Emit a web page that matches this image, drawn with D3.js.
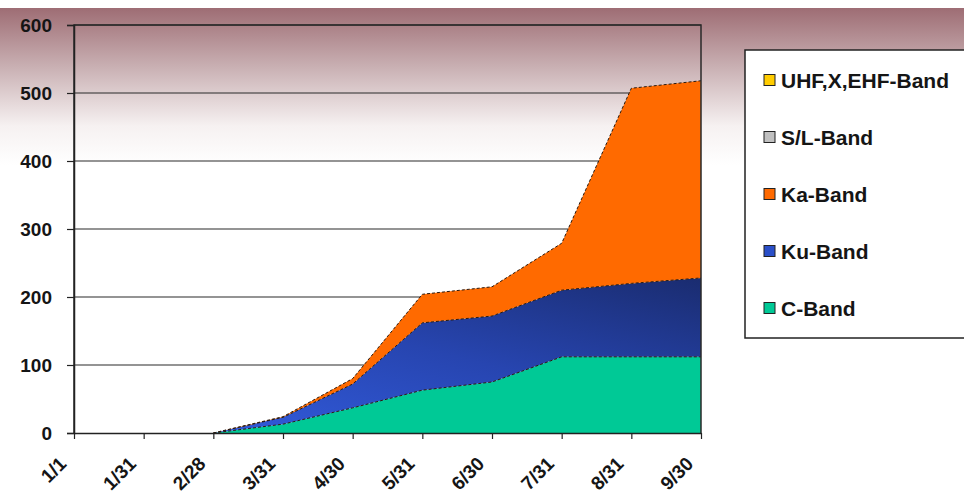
<!DOCTYPE html>
<html><head><meta charset="utf-8">
<script src="https://cdn.jsdelivr.net/npm/d3@7"></script>
<style>html,body{margin:0;padding:0;background:#fff;}svg{display:block;font-family:Arial,"Liberation Sans",sans-serif;}</style>
</head><body>
<svg id="c" width="964" height="499"></svg>
<script>
const categories = ["1/1","1/31","2/28","3/31","4/30","5/31","6/30","7/31","8/31","9/30"];
const seriesNames = ["C-Band","Ku-Band","Ka-Band","S/L-Band","UHF,X,EHF-Band"];
const cBand   = [0,0,0,13,37,63,75,112,112,112];
const kuBand  = [0,0,0,10,35,99,97,98,108,116];
const kaBand  = [0,0,0,1,8,42,43,69,287,290];
const slBand  = [0,0,0,0,0,0,0,0,0,0];
const uhfBand = [0,0,0,0,0,0,0,0,0,0];
const yTicks = [0,100,200,300,400,500,600];
const colors = ["#00c996","url(#kuGrad)","#ff6a00","#c0c0c0","#ffcc00"];
const legendColors = ["#00c996","#2a4fc8","#ff6a00","#c0c0c0","#ffcc00"];

const svg = d3.select("#c");
const defs = svg.append("defs");
const bg = defs.append("linearGradient").attr("id","bgGrad").attr("x1",0).attr("y1",0).attr("x2",0).attr("y2",1);
bg.append("stop").attr("offset","0%").attr("stop-color","#9e6d74");
bg.append("stop").attr("offset","12%").attr("stop-color","#c9b0b3");
bg.append("stop").attr("offset","24%").attr("stop-color","#f6f1f1");
bg.append("stop").attr("offset","32%").attr("stop-color","#ffffff");
bg.append("stop").attr("offset","100%").attr("stop-color","#ffffff");
const kg = defs.append("linearGradient").attr("id","kuGrad").attr("x1",0).attr("y1",1).attr("x2",1).attr("y2",0);
kg.append("stop").attr("offset","0%").attr("stop-color","#3460e6");
kg.append("stop").attr("offset","55%").attr("stop-color","#2745b0");
kg.append("stop").attr("offset","100%").attr("stop-color","#1a2c70");

svg.append("rect").attr("x",0).attr("y",8).attr("width",964).attr("height",491).attr("fill","url(#bgGrad)");

const pLeft = 74, pRight = 701, pTop = 25, pBottom = 433;
const x = d3.scalePoint().domain(categories).range([pLeft,pRight]);
const y = d3.scaleLinear().domain([0,600]).range([pBottom,pTop]);

// gridlines
svg.append("g").selectAll("line").data(yTicks.slice(1)).join("line")
  .attr("x1",pLeft).attr("x2",pRight).attr("y1",d=>y(d)).attr("y2",d=>y(d))
  .attr("stroke","#2a2a2a").attr("stroke-width",1.2);

const rows = categories.map((c,i)=>({cat:c, "C-Band":cBand[i], "Ku-Band":kuBand[i], "Ka-Band":kaBand[i], "S/L-Band":slBand[i], "UHF,X,EHF-Band":uhfBand[i]}));
const stacked = d3.stack().keys(seriesNames)(rows);
const area = d3.area().x(d=>x(d.data.cat)).y0(d=>y(d[0])).y1(d=>y(d[1]));
const line = d3.line().x(d=>x(d.data.cat)).y(d=>y(d[1]));

svg.append("g").selectAll("path").data(stacked).join("path")
  .attr("d",area).attr("fill",(d,i)=>colors[i]);
svg.append("g").selectAll("path").data(stacked.slice(0,3)).join("path")
  .attr("d",d=>line(d.slice(2))).attr("fill","none").attr("stroke","#2a1a10")
  .attr("stroke-width",1).attr("stroke-dasharray","3,2");

// frame
svg.append("path").attr("d",`M${pLeft},${pBottom}V${pTop}H${pRight}V${pBottom}`)
  .attr("fill","none").attr("stroke","#2a2a2a").attr("stroke-width",1.5);

const FONT = "Arial, 'Liberation Sans', sans-serif";
// y axis
const ya = svg.append("g").attr("transform",`translate(${pLeft},0)`)
  .call(d3.axisLeft(y).tickValues(yTicks).tickSize(7).tickPadding(15).tickFormat(d3.format("d")));
ya.select(".domain").attr("stroke","#222").attr("stroke-width",1.5);
ya.selectAll(".tick line").attr("stroke","#222").attr("stroke-width",1.2);
ya.selectAll("text").attr("font-size",19).attr("font-weight","bold").attr("fill","#151515").attr("font-family",FONT);

// x axis
const xa = svg.append("g").attr("transform",`translate(0,${pBottom})`)
  .call(d3.axisBottom(x).tickSize(6).tickSizeOuter(0));
xa.select(".domain").attr("stroke","#222").attr("stroke-width",1.5);
xa.selectAll(".tick line").attr("stroke","#222").attr("stroke-width",1.2);
xa.selectAll("text").attr("font-size",19).attr("font-weight","bold").attr("fill","#151515")
  .attr("font-family",FONT)
  .attr("text-anchor","end").attr("dy",0).attr("y",0)
  .attr("transform","translate(-7,32) rotate(-45)");

// legend
const lg = svg.append("g");
lg.append("rect").attr("x",745).attr("y",50).attr("width",240).attr("height",288)
  .attr("fill","#fff").attr("stroke","#222").attr("stroke-width",1.5);
const legendOrder = seriesNames.slice().reverse();
const ly = d3.scalePoint().domain(legendOrder).range([80,308]);
const items = lg.selectAll("g.it").data(legendOrder).join("g").attr("class","it")
  .attr("transform",d=>`translate(0,${ly(d)})`);
items.append("rect").attr("x",764).attr("y",-5.5).attr("width",11).attr("height",11)
  .attr("fill",d=>legendColors[seriesNames.indexOf(d)]).attr("stroke","#222").attr("stroke-width",1);
items.append("text").attr("x",781).attr("y",0).attr("dy","0.36em")
  .attr("font-size",21).attr("font-weight","bold").attr("fill","#151515").attr("font-family",FONT).text(d=>d);
</script>
</body></html>
